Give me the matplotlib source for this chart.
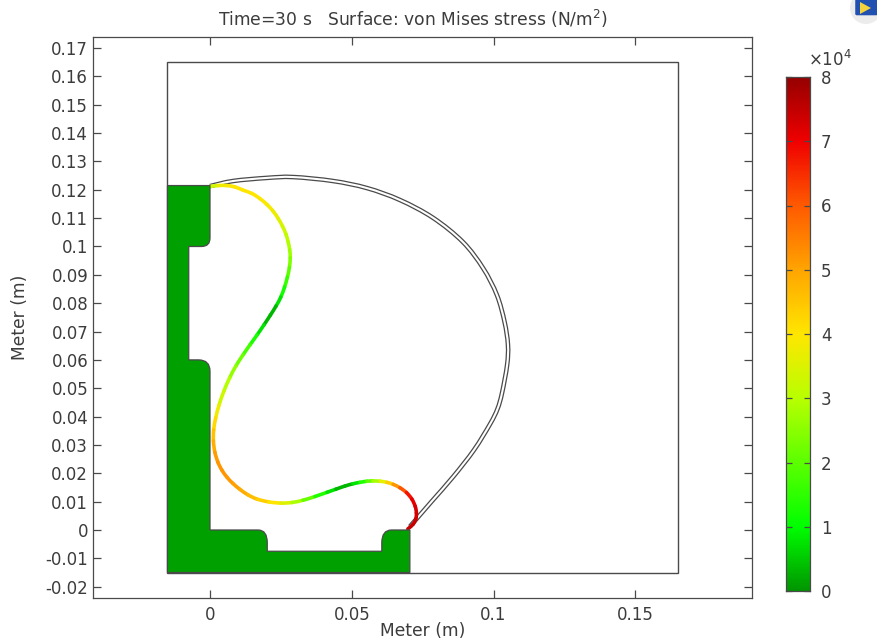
import numpy as np
import matplotlib
matplotlib.use("Agg")
import matplotlib.pyplot as plt
from matplotlib.colors import LinearSegmentedColormap, Normalize
from matplotlib.patches import PathPatch, Rectangle, Polygon, FancyBboxPatch, Ellipse
from matplotlib.path import Path

plt.rcParams["font.family"] = "DejaVu Sans"
plt.rcParams["axes.unicode_minus"] = False
plt.rcParams["mathtext.default"] = "regular"

TITLE = "Time=30 s   Surface: von Mises stress (N/m$^2$)"
XLABEL = "Meter (m)"
YLABEL = "Meter (m)"
X_TICKS = [0, 0.05, 0.1, 0.15]
X_TICK_LABELS = ["0", "0.05", "0.1", "0.15"]
Y_TICKS = [-0.02, -0.01, 0, 0.01, 0.02, 0.03, 0.04, 0.05, 0.06, 0.07, 0.08, 0.09,
           0.1, 0.11, 0.12, 0.13, 0.14, 0.15, 0.16, 0.17]
Y_TICK_LABELS = ["-0.02", "-0.01", "0", "0.01", "0.02", "0.03", "0.04", "0.05", "0.06", "0.07",
                 "0.08", "0.09", "0.1", "0.11", "0.12", "0.13", "0.14", "0.15", "0.16", "0.17"]
CB_TICKS = [0, 1, 2, 3, 4, 5, 6, 7, 8]

# Domain and block outline, millimetres
DOMAIN_MM = (-15, 165)
BLOCK_X = [-15, 70.5, 70.5, 64.0, 60.6, 60.6, 60.6, 20.2, 20.2, 20.2, 17.0, 0, 0, 0, -4.0, -7.5, -7.5, -3.0, 0, 0, 0, -15, -15]
BLOCK_Y = [-15, -15, 0, 0, 0, -4.5, -7.5, -7.5, -4.5, 0, 0, 0, 56.0, 60, 60, 60, 100, 100, 100, 103.0, 121.5, 121.5, -15]

# Outer (stress-free) membrane centre line, millimetres
OUTER_X = [0, 8.1, 20.1, 29.3, 43.4, 55.4, 67.0, 78.7, 89.2, 96.3, 101.2, 103.9, 105.1, 104.8, 103.0, 101.4, 98.8, 93.1, 85.7, 78.3, 70.5]
OUTER_Y = [121.3, 123.1, 124.2, 124.5, 123.1, 120.6, 116.4, 110.1, 101.6, 92.4, 82.9, 73.4, 65.3, 58.2, 48.3, 42.7, 37.4, 28.2, 18.7, 10.2, 1.2]

# Deformed membrane, millimetres, with the stress (x 10^4 N/m^2)
INNER_X = [0.2, 2.8, 6.0, 8.8, 11.6, 14.8, 17.6, 20.1, 22.3, 24.1, 25.6, 26.8, 27.6, 28.1, 28.3,
           28.0, 27.3, 26.3, 25.0, 23.3, 21.3, 19.0, 16.6, 14.1, 11.6, 9.1, 6.9, 4.9, 3.2, 2.0, 1.3, 1.2,
           1.7, 2.8, 4.2, 6.0, 8.1, 10.6, 13.4, 16.6, 20.8, 25.0, 28.9, 32.8, 37.0, 41.3, 44.4, 47.6, 50.4,
           52.9, 55.4, 57.5, 60.0, 62.4, 64.6, 67.0, 69.3, 71.2, 72.4, 72.8, 72.6, 71.6, 69.8]
INNER_Y = [121.2, 121.5, 121.5, 121.0, 119.9, 118.7, 116.9, 114.8, 112.4, 109.8, 107.1, 104.3, 101.5, 98.8, 96.0,
           92.6, 89.2, 85.7, 82.2, 79.0, 75.8, 72.3, 68.8, 65.3, 61.7, 57.8, 53.6, 49.0, 44.1, 39.5, 35.3, 31.4,
           27.5, 23.9, 21.1, 18.6, 16.4, 14.3, 12.4, 10.9, 9.9, 9.5, 9.7, 10.5, 11.8, 13.3, 14.4, 15.5, 16.3,
           16.8, 17.2, 17.3, 17.2, 16.8, 16.1, 14.9, 13.2, 10.9, 8.3, 6.0, 3.9, 2.0, 0.4]
INNER_STRESS = [3.0, 3.6, 3.9, 4.0, 4.0, 4.0, 4.0, 3.9, 3.8, 3.6, 3.4, 3.2, 3.0, 2.8, 2.6, 2.2, 1.8, 1.4, 1.0,
                0.5, 0.15, 0.5, 1.0, 1.5, 2.0, 2.4, 2.8, 3.1, 3.5, 4.0, 4.4, 4.7, 5.0, 5.2, 5.2, 5.2, 5.1, 5.0,
                4.8, 4.5, 4.2, 3.8, 3.2, 2.5, 1.7, 1.0, 0.5, 0.15, 0.5, 1.0, 1.7, 2.4, 3.2, 4.0, 4.8, 5.6,
                6.5, 7.0, 7.2, 7.3, 7.3, 7.4, 7.5]

CMAP_STOPS = [0, 0.125, 0.25, 0.375, 0.5, 0.625, 0.75, 0.875, 1]
CMAP_COLORS = ["#009600", "#00ff00", "#5cff00", "#b9ff00", "#ffe600", "#ffa500", "#ff5a00", "#f00000", "#960000"]

TEXT = "#3c3c3c"
LINE = "#4a4a4a"
FS = 12
FS_TITLE = 12.3

cmap = LinearSegmentedColormap.from_list("stress", list(zip(CMAP_STOPS, CMAP_COLORS)))
norm = Normalize(0, 8)
W, H = 878, 642
fig = plt.figure(figsize=(W / 100, H / 100), dpi=100)


def box(l, t, r, b):
    return [l / W, 1 - b / H, (r - l) / W, (b - t) / H]


def smooth_pieces(x, y):
    """Cubic Bezier control points for a smooth curve through the read knots."""
    p = np.column_stack([x, y])
    q = np.vstack([p[0], p, p[-1]])
    c1 = p[:-1] + (q[2:-1] - q[:-3]) / 6
    c2 = p[1:] - (q[3:] - q[1:-2]) / 6
    return p, c1, c2


ax = fig.add_axes(box(93, 37, 752, 598))
ax.set_xlim(-0.04127, 0.19118)
ax.set_ylim(-0.02399, 0.17390)

m = 0.001
s, e = DOMAIN_MM
ax.add_patch(Rectangle((s * m, s * m), (e - s) * m, (e - s) * m, fill=False, ec=LINE, lw=1.0, zorder=1))

# Outer membrane: one smooth path drawn as a double line
p, c1, c2 = smooth_pieces(np.array(OUTER_X) * m, np.array(OUTER_Y) * m)
verts = [p[0]]
codes = [Path.MOVETO]
for i in range(len(c1)):
    verts += [c1[i], c2[i], p[i + 1]]
    codes += [Path.CURVE4] * 3
outer = Path(np.array(verts), codes)
ax.add_patch(PathPatch(outer, fill=False, ec=LINE, lw=3.3, capstyle="butt", zorder=2))
ax.add_patch(PathPatch(outer, fill=False, ec="white", lw=1.5, capstyle="butt", zorder=3))

# Deformed membrane: one smooth piece per read interval, coloured by its stress
p, c1, c2 = smooth_pieces(np.array(INNER_X) * m, np.array(INNER_Y) * m)
st = np.array(INNER_STRESS)
for i in range(len(c1)):
    piece = Path([p[i], c1[i], c2[i], p[i + 1]], [Path.MOVETO, Path.CURVE4, Path.CURVE4, Path.CURVE4])
    ax.add_patch(PathPatch(piece, fill=False, ec=cmap(norm((st[i] + st[i + 1]) / 2)), lw=2.6,
                           capstyle="round", zorder=4))

# Block with rounded fillets
block_codes = [Path.MOVETO, Path.LINETO, Path.LINETO, Path.LINETO, Path.CURVE3, Path.CURVE3, Path.LINETO, Path.LINETO,
               Path.LINETO, Path.CURVE3, Path.CURVE3, Path.LINETO, Path.LINETO, Path.CURVE3, Path.CURVE3, Path.LINETO,
               Path.LINETO, Path.LINETO, Path.CURVE3, Path.CURVE3, Path.LINETO, Path.LINETO, Path.CLOSEPOLY]
ax.add_patch(PathPatch(Path(np.column_stack([BLOCK_X, BLOCK_Y]) * m, block_codes),
                       fc="#00a000", ec=LINE, lw=0.9, zorder=5))

ax.set_xticks(X_TICKS, X_TICK_LABELS)
ax.set_yticks(Y_TICKS, Y_TICK_LABELS)
ax.tick_params(direction="in", length=6, width=0.9, color=LINE, labelcolor=TEXT, labelsize=FS,
               top=True, right=True, pad=3.5)
ax.tick_params(axis="x", pad=6)
for sp in ax.spines.values():
    sp.set_color(LINE)
    sp.set_linewidth(0.9)
fig.text(412.5 / W, 1 - 18.5 / H, TITLE, ha="center", va="center", color=TEXT, fontsize=FS_TITLE)
fig.text(422.5 / W, 1 - 631 / H, XLABEL, ha="center", va="center", color=TEXT, fontsize=FS_TITLE)
fig.text(20.5 / W, 1 - 317 / H, YLABEL, ha="center", va="center", rotation=90, color=TEXT, fontsize=FS_TITLE)

# Colour bar
cax = fig.add_axes(box(786, 77, 810, 591))
cax.pcolormesh([0, 1], np.linspace(0, 8, 257), np.linspace(0, 8, 256)[:, None], cmap=cmap, norm=norm)
cax.set_xlim(0, 1)
cax.set_ylim(0, 8)
cax.set_xticks([])
cax.set_yticks(CB_TICKS, [str(t) for t in CB_TICKS])
cax.yaxis.tick_right()
cax.tick_params(axis="y", direction="in", length=4, width=0.9, color=LINE, labelcolor=TEXT, labelsize=FS,
                left=True, right=True, pad=8)
for sp in cax.spines.values():
    sp.set_color(LINE)
    sp.set_linewidth(0.9)
fig.text(829.5 / W, 1 - 60 / H, r"$\times$10$^4$", ha="center", va="center", color=TEXT, fontsize=FS)

# Small blue application icon in the corner
fx = lambda px: px / W
fy = lambda py: 1 - py / H
fig.add_artist(Ellipse((fx(866), fy(8)), 32 / W, 32 / H, transform=fig.transFigure, fc="#ececec", ec="none"))
fig.add_artist(FancyBboxPatch((fx(857), fy(14)), 19 / W, 14 / H, boxstyle="round,pad=0.002", transform=fig.transFigure,
                              fc="#2050b0", ec="none"))
fig.add_artist(Polygon([(fx(860), fy(2)), (fx(871), fy(8)), (fx(860), fy(14))], transform=fig.transFigure,
                       fc="#f4d23c", ec="none"))

fig.savefig("out.png", dpi=100)
